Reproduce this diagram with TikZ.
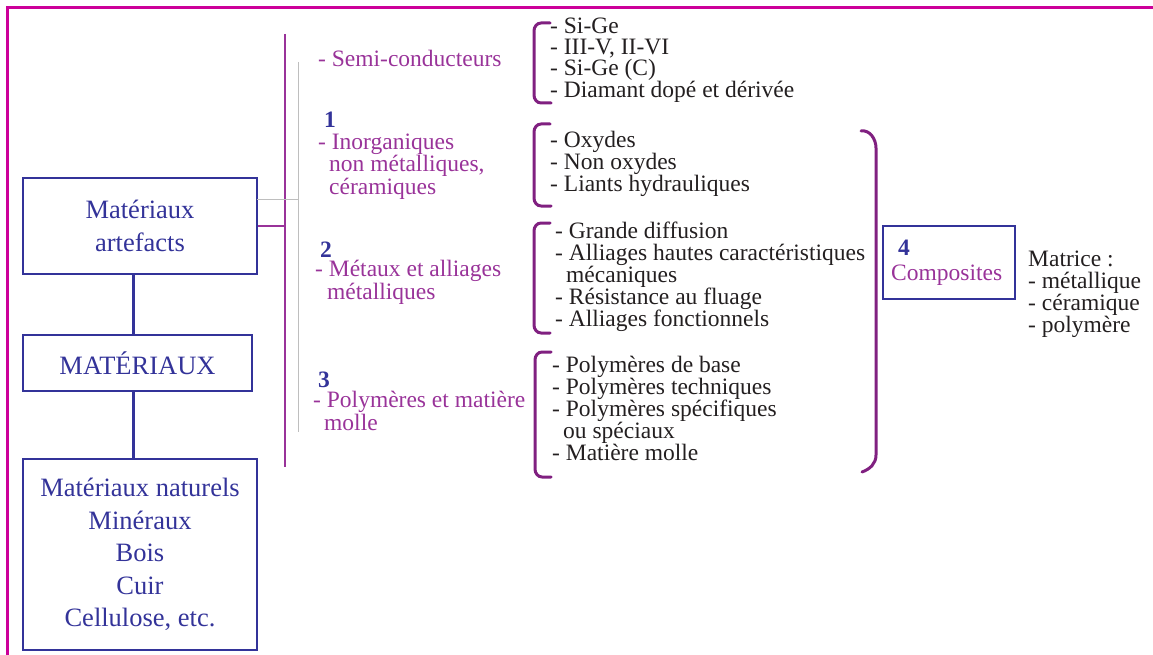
\documentclass[tikz,border=0pt]{standalone}
\usepackage{fontspec}
\setmainfont{Liberation Serif}
\definecolor{framec}{RGB}{204,0,153}
\definecolor{dblue}{RGB}{51,51,153}
\definecolor{purp}{RGB}{153,51,153}
\definecolor{brk}{RGB}{128,32,128}
\definecolor{txt}{RGB}{35,31,32}
\definecolor{grayline}{RGB}{190,190,190}
\begin{document}
\begin{tikzpicture}[x=1pt,y=-1pt,
  bluebox/.style={draw=dblue, line width=2pt, inner sep=0pt, text=dblue, align=center, font=\fontsize{26.5}{32.5}\selectfont},
  blist/.style={inner sep=0pt, anchor=base west, align=left, text=txt, font=\fontsize{23.5}{22}\selectfont},
  plist/.style={inner sep=0pt, anchor=base west, align=left, text=purp, font=\fontsize{23.5}{21}\selectfont},
  num/.style={inner sep=0pt, anchor=base west, text=dblue, font=\fontsize{23.5}{24}\selectfont\bfseries},
  bracket/.style={draw=brk, line width=3pt, line cap=round, line join=round},
  spine/.style={draw=purp, line width=2pt},
  thinline/.style={draw=grayline, line width=0.8pt},
  link/.style={draw=dblue, line width=3pt},
  framel/.style={draw=framec, line width=3pt},
]
\useasboundingbox (0,0) rectangle (1153,655);
% frame
\coordinate (fBL) at (7,656);
\coordinate (fTL) at (7,8);
\coordinate (fTR) at (1154,8);
\draw[framel] (fBL) -- (fTL) -- (fTR);

% blue boxes
\node[bluebox, minimum width=234pt, minimum height=96pt] (art) at (140,226) {Matériaux\\artefacts};
\node[bluebox, minimum width=229pt, minimum height=56pt] (mat) at (137.5,363) {MATÉRIAUX};
\node[bluebox, minimum width=234pt, minimum height=191pt] (nat) at (140,554.5) {Matériaux naturels\\Minéraux\\Bois\\Cuir\\Cellulose, etc.};

\draw[link] ([xshift=-7pt]art.south) -- ([xshift=-7pt]art.south |- mat.north);
\draw[link] ([xshift=-7pt]art.south |- mat.south) -- ([xshift=-7pt]art.south |- nat.north);

% spine and gray lines
\coordinate (spT) at (285,34);
\coordinate (spB) at (285,467);
\draw[spine] (spT) -- (spB);
\draw[spine] (art.east) -- (art.east -| spT);
\coordinate (gT) at (298,62);
\coordinate (gB) at (298,432);
\coordinate (gH) at (257,199);
\draw[thinline] (gT) -- (gB);
\draw[thinline] (gH) -- (gH -| gT);

% purple category labels (anchored at the baseline of the last line)
\node[plist] (semi) at (318,67) {- Semi-conducteurs};
\node[num] (n1) at (324,128) {1};
\node[plist] (inorg) at (318,194) {- Inorganiques\\\hspace*{11pt}non métalliques,\\\hspace*{11pt}céramiques};
\node[num] (n2) at (320,257) {2};
\node[plist] (metal) at (315,299) {- Métaux et alliages\\\hspace*{12pt}métalliques};
\node[num] (n3) at (318,387) {3};
\node[plist] (poly) at (313,430) {- Polymères et matière\\\hspace*{11pt}molle};

% brackets
\draw[bracket] (550,23) -- (541,23) to[out=180,in=90] (534,31) -- (534,95) to[out=-90,in=180] (541,103) -- (551,103);
\draw[bracket] (550,124) -- (541,124) to[out=180,in=90] (534,132) -- (534,198) to[out=-90,in=180] (541,206) -- (551,206);
\draw[bracket] (550,223) -- (541,223) to[out=180,in=90] (534,231) -- (534,325) to[out=-90,in=180] (541,333) -- (550,333);
\draw[bracket] (551,352) -- (542,352) to[out=180,in=90] (535,360) -- (535,469) to[out=-90,in=180] (542,477) -- (551,477);
\draw[bracket] (861,131) to[out=10,in=90] (876,148) -- (876,455) to[out=-90,in=20] (862,472);

% black lists (anchored at the baseline of the last line)
\node[blist, font=\fontsize{23.5}{21}\selectfont] (l1) at (550,98) {- Si-Ge\\- III-V, II-VI\\- Si-Ge (C)\\- Diamant dopé et dérivée};
\node[blist] (l2) at (550,192) {- Oxydes\\- Non oxydes\\- Liants hydrauliques};
\node[blist] (l3) at (555,326) {- Grande diffusion\\- Alliages hautes caractéristiques\\\hspace*{11pt}mécaniques\\- Résistance au fluage\\- Alliages fonctionnels};
\node[blist] (l4) at (552,460) {- Polymères de base\\- Polymères techniques\\- Polymères spécifiques\\\hspace*{11pt}ou spéciaux\\- Matière molle};

% composites
\node[draw=dblue, line width=2pt, minimum width=132pt, minimum height=73pt, inner sep=0pt] (comp) at (949,262.5) {};
\node[num] (n4) at (898,255) {4};
\node[plist] (compt) at (891,280) {Composites};
\node[blist] (matr) at (1028,332) {Matrice :\\- métallique\\- céramique\\- polymère};
\end{tikzpicture}
\end{document}
